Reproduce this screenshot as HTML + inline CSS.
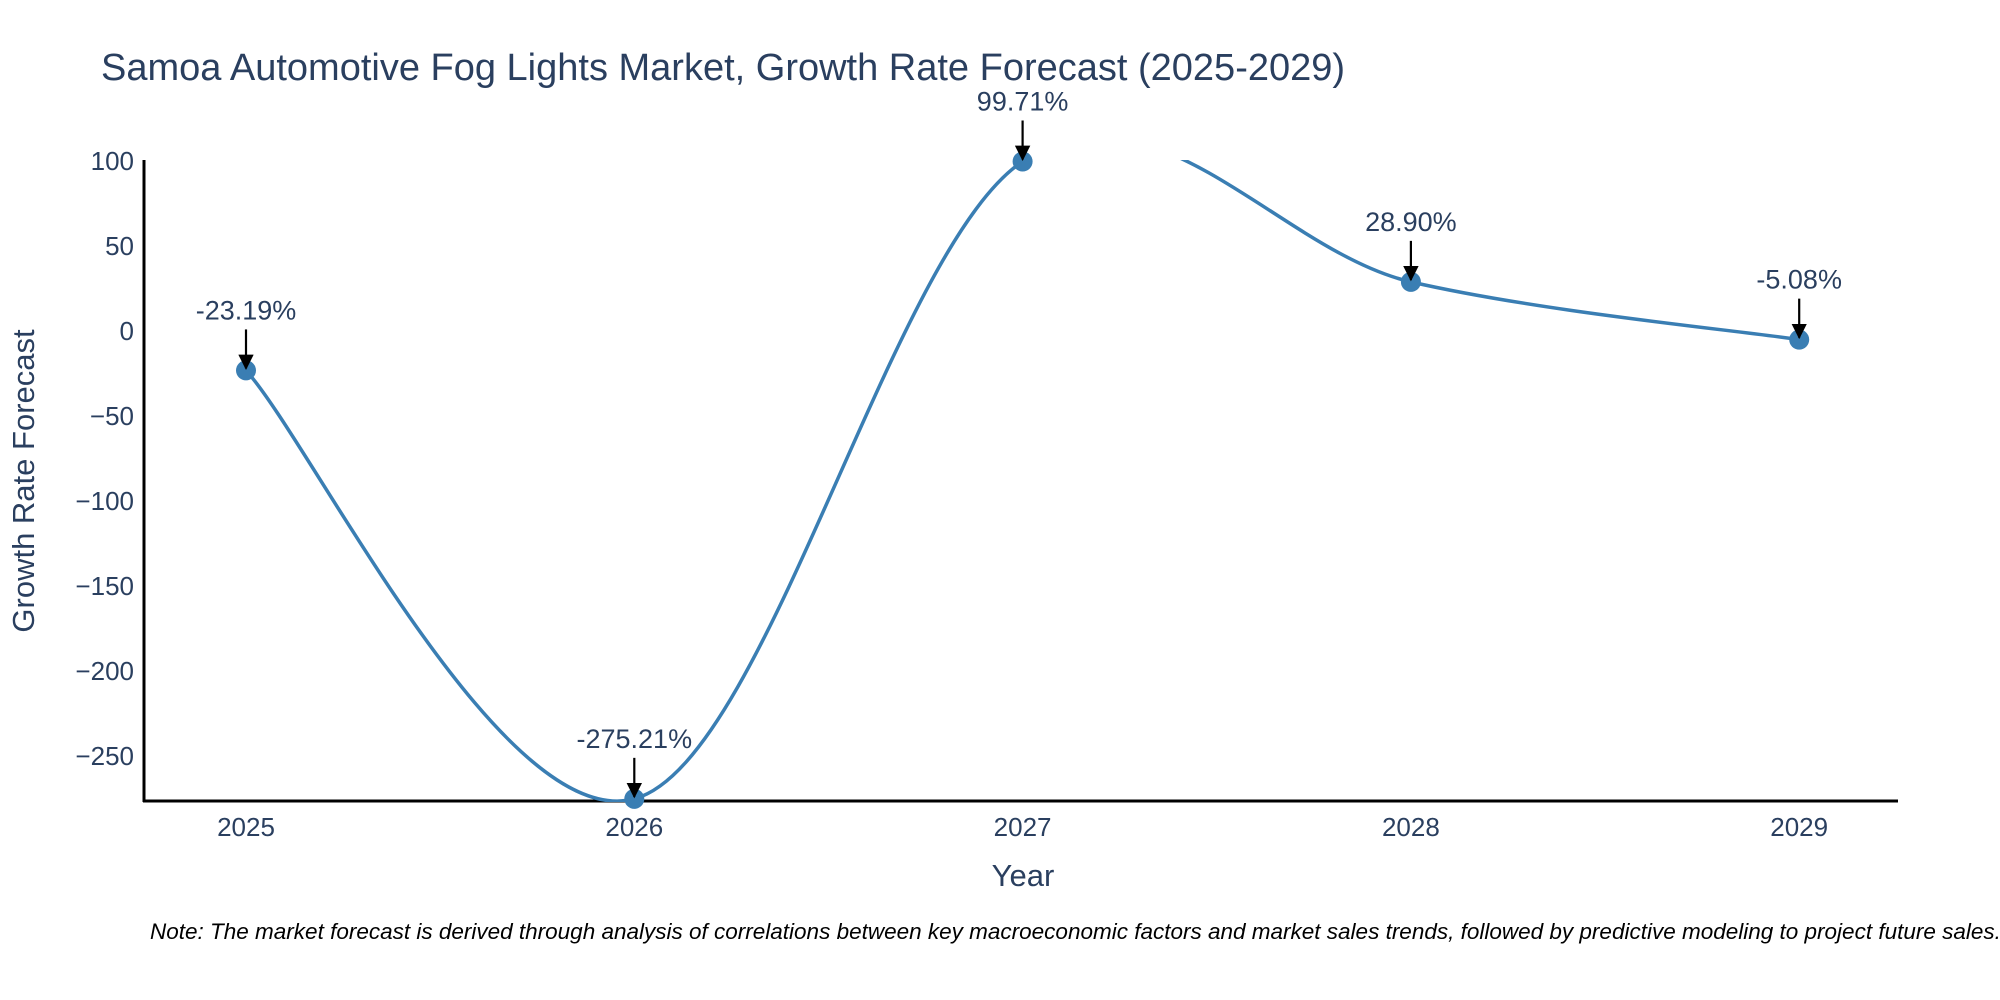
<!DOCTYPE html>
<html><head><meta charset="utf-8"><style>
body{margin:0;background:#fff;}
svg{display:block;font-family:"Liberation Sans",sans-serif;}
</style></head><body>
<svg width="2000" height="1000" viewBox="0 0 2000 1000">
<defs>
<clipPath id="plotclip"><rect x="144" y="160" width="1754" height="642"/></clipPath>
<marker id="arr" viewBox="0 0 10 10" refX="9" refY="5" markerWidth="7" markerHeight="7" orient="auto"><path d="M0,0 L10,5 L0,10 z" fill="#000"/></marker>
</defs>
<text x="101" y="80" font-size="38" fill="#2a3f5f">Samoa Automotive Fog Lights Market, Growth Rate Forecast (2025-2029)</text>
<g id="yticks"></g>
<g id="xticks"></g>
<line x1="144" y1="160" x2="144" y2="802" stroke="#000" stroke-width="3"/>
<line x1="143" y1="801" x2="1898" y2="801" stroke="#000" stroke-width="3"/>
<g clip-path="url(#plotclip)"><path id="line" fill="none" stroke="#3a7eb3" stroke-width="3.5"/></g>
<g id="marks"></g>
<g id="annots"></g>
<text transform="translate(34,481) rotate(-90)" text-anchor="middle" font-size="31" fill="#2a3f5f">Growth Rate Forecast</text>
<text x="1023" y="886" text-anchor="middle" font-size="31" fill="#2a3f5f">Year</text>
<text x="150" y="939" font-size="22.5" font-style="italic" fill="#000">Note: The market forecast is derived through analysis of correlations between key macroeconomic factors and market sales trends, followed by predictive modeling to project future sales.</text>
</svg>
<script>
const years=[2025,2026,2027,2028,2029];
const growth=[-23.19,-275.21,99.71,28.90,-5.08];
const labels=["-23.19%","-275.21%","99.71%","28.90%","-5.08%"];
const yTicks=[100,50,0,-50,-100,-150,-200,-250];
const NS="http://www.w3.org/2000/svg";
function xs(yr){return 246+(yr-2025)*388.3;}
function ys(v){return 331-1.7*v;}
function mk(t,a,p){const e=document.createElementNS(NS,t);for(const k in a)e.setAttribute(k,a[k]);p.appendChild(e);return e;}
const yt=document.getElementById('yticks');
yTicks.forEach(v=>{const t=mk('text',{x:134,y:ys(v)+9,'text-anchor':'end','font-size':26,fill:'#2a3f5f'},yt);


t.textContent=v<0?'\u2212'+Math.abs(v):String(v);});
const xt=document.getElementById('xticks');
years.forEach(y=>{const t=mk('text',{x:xs(y),y:836,'text-anchor':'middle','font-size':26,fill:'#2a3f5f'},xt);


t.textContent=y;});
const P=years.map((y,i)=>[xs(y),ys(growth[i])]);
let d='M'+P[0][0]+','+P[0][1];
const s=0.17;
for(let i=0;i<P.length-1;i++){
 const p0=P[Math.max(i-1,0)],p1=P[i],p2=P[i+1],p3=P[Math.min(i+2,P.length-1)];
 const c1=[p1[0]+(p2[0]-p0[0])*s,p1[1]+(p2[1]-p0[1])*s];
 const c2=[p2[0]-(p3[0]-p1[0])*s,p2[1]-(p3[1]-p1[1])*s];
 d+=' C'+c1+' '+c2+' '+p2;
}
document.getElementById('line').setAttribute('d',d);
const mg=document.getElementById('marks'),ag=document.getElementById('annots');
P.forEach((p,i)=>{
 const c=mk('circle',{cx:p[0],cy:p[1],r:10,fill:'#3a7eb3'},mg);
 
 
 const l=mk('line',{x1:p[0],y1:p[1]-41,x2:p[0],y2:p[1]-2,stroke:'#000','stroke-width':2.2,'marker-end':'url(#arr)'},ag);
 
 
 const t=mk('text',{x:p[0],y:p[1]-51,'text-anchor':'middle','font-size':27,fill:'#2a3f5f'},ag);
 
 
 t.textContent=labels[i];
});
</script>
</body></html>
